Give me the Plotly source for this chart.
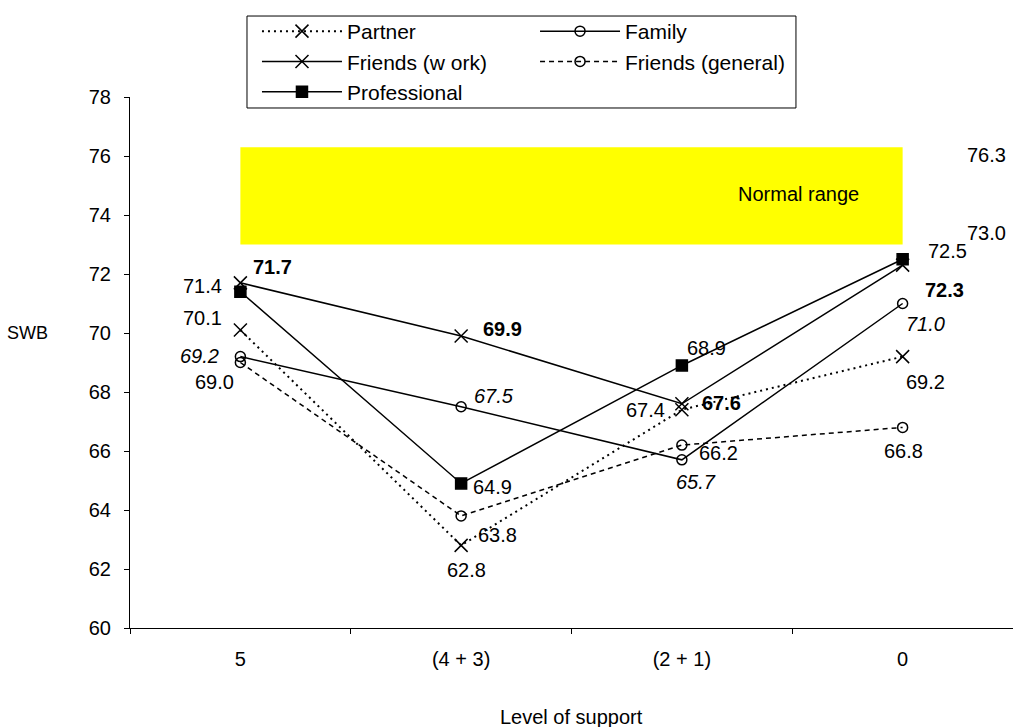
import plotly.graph_objects as go

# ---------------- data ----------------
CATEGORIES = ["5", "(4 + 3)", "(2 + 1)", "0"]
PARTNER = [70.1, 62.8, 67.4, 69.2]
FAMILY = [69.2, 67.5, 65.7, 71.0]
FRIENDS_WORK = [71.7, 69.9, 67.6, 72.3]
FRIENDS_GENERAL = [69.0, 63.8, 66.2, 66.8]
PROFESSIONAL = [71.4, 64.9, 68.9, 72.5]
NORMAL_LOW = 73.0
NORMAL_HIGH = 76.3

# ---------------- styles ----------------
FONT = "Liberation Sans, Arial, sans-serif"
FS = 20
BLACK = "#000000"

# label offsets (px) for every point of each series: (xshift, yshift)
OFFSETS = {
    "Partner": [(-38, 12), (5, -25), (-36, 0), (23, -25)],
    "Family": [(-41, 1), (33, 11), (14, -22), (23, -20)],
    "Friends (w ork)": [(32, 16), (41, 7), (40, 1), (42, -25)],
    "Friends (general)": [(-26, -19), (36, -19), (37, -8), (1, -24)],
    "Professional": [(-38, 6), (31, -4), (25, 17), (45, 8)],
}
LABEL_STYLE = {
    "Partner": ("normal", "normal"),
    "Family": ("normal", "italic"),
    "Friends (w ork)": ("bold", "normal"),
    "Friends (general)": ("normal", "normal"),
    "Professional": ("normal", "normal"),
}

SERIES = [
    # name, values, marker symbol, marker size, dash, line width, legend
    ("Partner", PARTNER, "x-thin-open", 13, "2px,4px", 2, "legend"),
    ("Friends (w ork)", FRIENDS_WORK, "x-thin-open", 13, "solid", 1.5, "legend"),
    ("Professional", PROFESSIONAL, "square", 11, "solid", 1.5, "legend"),
    ("Family", FAMILY, "circle-open", 10, "solid", 1.5, "legend2"),
    ("Friends (general)", FRIENDS_GENERAL, "circle-open", 10, "5px,4px", 1.5, "legend2"),
]

fig = go.Figure()

# normal range band
fig.add_trace(go.Scatter(
    x=[CATEGORIES[0], CATEGORIES[-1]], y=[NORMAL_LOW, NORMAL_LOW],
    mode="lines", line=dict(width=0), showlegend=False, hoverinfo="skip"))
fig.add_trace(go.Scatter(
    x=[CATEGORIES[0], CATEGORIES[-1]], y=[NORMAL_HIGH, NORMAL_HIGH],
    mode="lines", line=dict(width=0), fill="tonexty", fillcolor="#FFFF00",
    showlegend=False, hoverinfo="skip"))

for name, vals, sym, msize, dash, lw, leg in SERIES:
    fig.add_trace(go.Scatter(
        x=CATEGORIES, y=vals, name=name, mode="lines+markers",
        line=dict(color=BLACK, width=lw, dash=dash),
        marker=dict(symbol=sym, size=msize, color=BLACK,
                    line=dict(color=BLACK, width=1.5)),
        legend=leg,
    ))

annotations = []
LAST = len(CATEGORIES) - 1
for name, vals, *_ in SERIES:
    weight, style = LABEL_STYLE[name]
    for idx, (v, (dx, dy)) in enumerate(zip(vals, OFFSETS[name])):
        annotations.append(dict(
            x=idx, y=v, xref="x", yref="y", text=f"{v:.1f}", showarrow=False,
            xshift=dx, yshift=dy, xanchor="center", yanchor="middle",
            font=dict(family=FONT, size=FS, color=BLACK, weight=weight, style=style)))

# normal range labels
for v, dy in ((NORMAL_HIGH, -8), (NORMAL_LOW, 12)):
    annotations.append(dict(
        x=LAST, y=v, xref="x", yref="y", text=f"{v:.1f}",
        showarrow=False, xshift=84, yshift=dy, xanchor="center", yanchor="middle",
        font=dict(family=FONT, size=FS, color=BLACK)))

annotations.append(dict(
    x=LAST, y=(NORMAL_LOW + NORMAL_HIGH) / 2 + 0.05, xref="x", yref="y",
    text="Normal range", showarrow=False, xshift=-104, xanchor="center",
    yanchor="middle", font=dict(family=FONT, size=FS, color=BLACK)))

annotations.append(dict(
    x=-0.1166, y=0.5556, xref="paper", yref="paper", text="SWB", showarrow=False,
    xanchor="center", yanchor="middle", font=dict(family=FONT, size=18, color=BLACK)))
annotations.append(dict(
    x=0.5, y=-0.168, xref="paper", yref="paper", text="Level of support",
    showarrow=False, xanchor="center", yanchor="middle",
    font=dict(family=FONT, size=FS, color=BLACK)))

legend_common = dict(
    bgcolor="rgba(0,0,0,0)", borderwidth=0, itemwidth=80, traceorder="normal",
    font=dict(family=FONT, size=21, color=BLACK),
    yanchor="top", xanchor="left", orientation="v", itemclick=False,
)

fig.update_layout(
    width=1013, height=727,
    margin=dict(l=130, r=0, t=97, b=99),
    paper_bgcolor="white", plot_bgcolor="white",
    font=dict(family=FONT, size=FS, color=BLACK),
    showlegend=True,
    legend=dict(x=0.1438, y=1.162, **legend_common),
    legend2=dict(x=0.4587, y=1.162, **legend_common),
    annotations=annotations,
    shapes=[dict(type="rect", xref="paper", yref="paper",
                 x0=0.1325, x1=0.7542, y0=0.9793, y1=1.1525,
                 line=dict(color=BLACK, width=1), fillcolor="rgba(0,0,0,0)")],
    xaxis=dict(type="category", categoryorder="array", categoryarray=CATEGORIES,
               range=[-0.5, 3.5], showline=True, linecolor=BLACK,
               linewidth=1, ticks="outside", tickson="boundaries", ticklen=5,
               tickcolor=BLACK, showgrid=False, zeroline=False,
               ticklabelstandoff=13, tickfont=dict(family=FONT, size=FS, color=BLACK)),
    yaxis=dict(range=[60, 78], dtick=2, tick0=60, showline=True, linecolor=BLACK,
               linewidth=1, ticks="outside", ticklen=5, tickcolor=BLACK,
               showgrid=False, zeroline=False, ticklabelstandoff=9,
               tickfont=dict(family=FONT, size=FS, color=BLACK)),
)

fig.write_html("out.html")
